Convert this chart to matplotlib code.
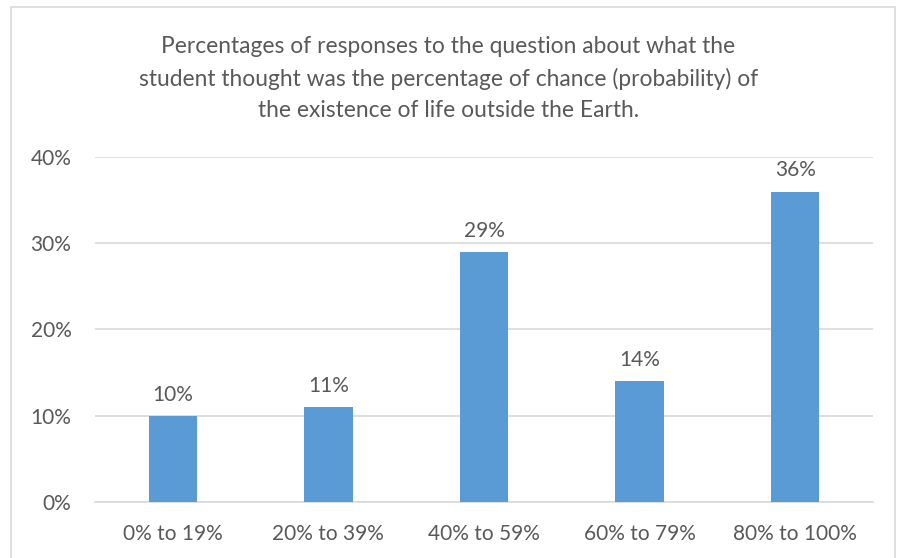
import matplotlib
matplotlib.use("Agg")
import matplotlib.pyplot as plt
from matplotlib.patches import Rectangle

categories = ["0% to 19%", "20% to 39%", "40% to 59%", "60% to 79%", "80% to 100%"]
values = [10, 11, 29, 14, 36]
yticks = [0, 10, 20, 30, 40]

plt.rcParams['font.family'] = ['Lato', 'DejaVu Sans']
text_color = "#595959"
bar_color = "#5B9BD5"
grid_color = "#D9D9D9"

fig = plt.figure(figsize=(8.97, 5.58), dpi=100)
ax = fig.add_axes([95 / 897, 0.1004, 778 / 897, 0.6182])

# chart frame
fig.patches.append(Rectangle((11 / 897, -0.01), 884 / 897, 0.997, transform=fig.transFigure,
                             fill=False, edgecolor="#D9D9D9", linewidth=1.2))

x = list(range(len(categories)))
bars = ax.bar(x, values, width=0.31, color=bar_color, zorder=3)
for b, v in zip(bars, values):
    ax.text(b.get_x() + b.get_width() / 2, v + 1.3, f"{v}%", ha="center", va="bottom",
            fontsize=15, color=text_color)

ax.set_xlim(-0.5, len(categories) - 0.5)
ax.set_ylim(0, 40)
ax.set_yticks(yticks)
ax.set_yticklabels([f"{t}%" for t in yticks])
ax.set_xticks(x)
ax.set_xticklabels(categories)
ax.yaxis.grid(True, color=grid_color, linewidth=1.2, zorder=0)
ax.tick_params(axis="both", length=0, labelsize=15, labelcolor=text_color)
ax.tick_params(axis="y", pad=17)
ax.tick_params(axis="x", pad=16)
for side in ["top", "right", "left"]:
    ax.spines[side].set_visible(False)
ax.spines["bottom"].set_color(grid_color)
ax.spines["bottom"].set_linewidth(1.2)

fig.text(0.5, 0.936,
         "Percentages of responses to the question about what the\n"
         "student thought was the percentage of chance (probability) of\n"
         "the existence of life outside the Earth.",
         ha="center", va="top", fontsize=16.4, color=text_color, linespacing=1.6)

fig.savefig("out.png", dpi=100)
